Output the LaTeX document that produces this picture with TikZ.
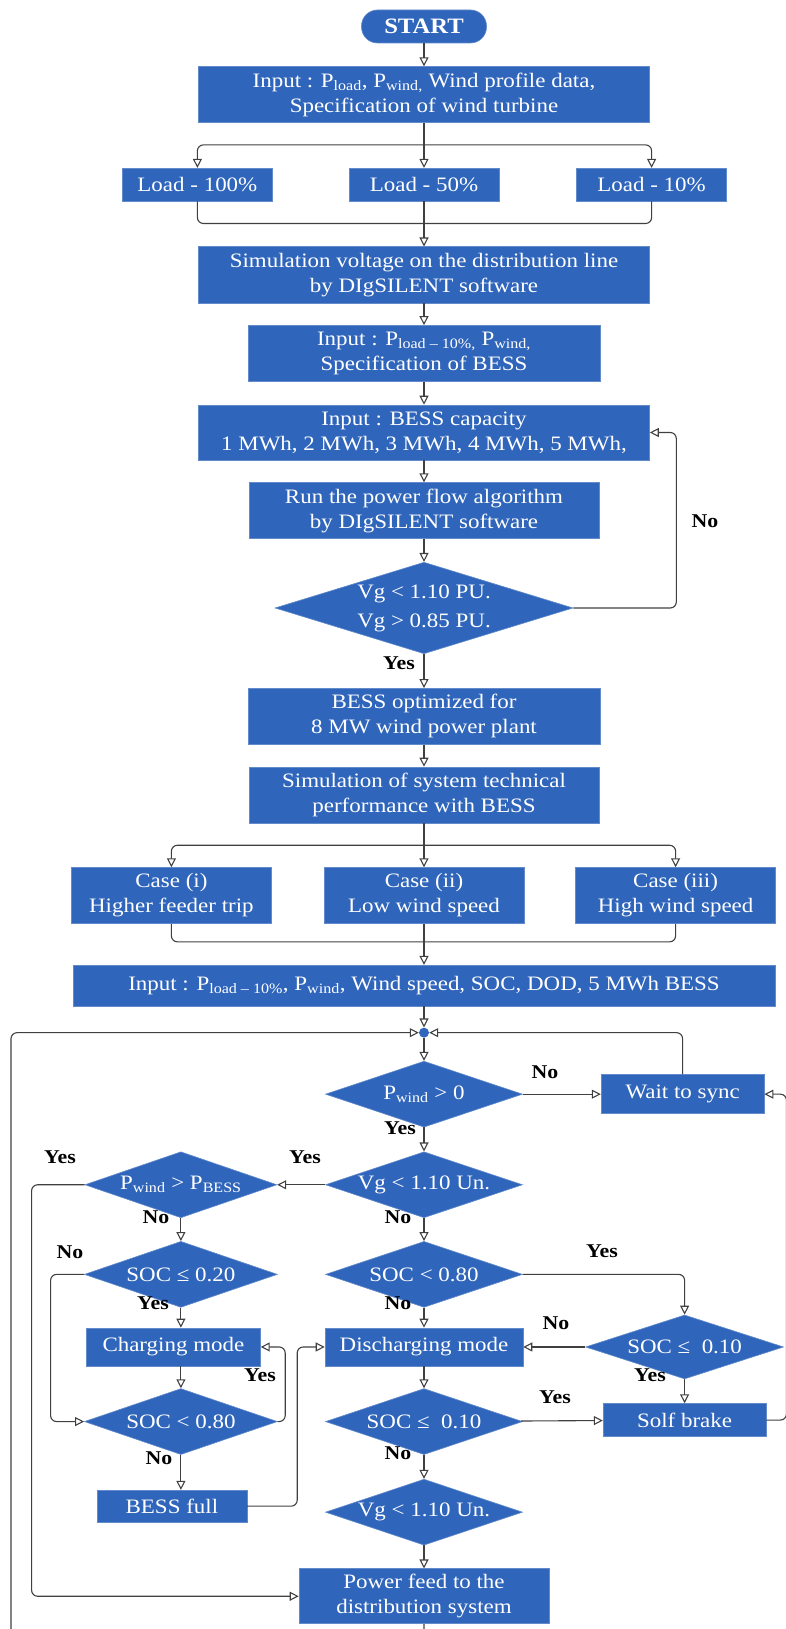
\documentclass[tikz,border=0pt]{standalone}
\usepackage{fontspec}
\setmainfont{Liberation Serif}[FakeStretch=1.12]
\usetikzlibrary{arrows.meta, positioning, shapes.geometric}

\definecolor{boxblue}{RGB}{47,101,187}
\definecolor{lineg}{RGB}{64,64,64}

\begin{document}
\begin{tikzpicture}[
    x=1pt, y=1pt,
    node distance=23pt,
    every node/.style={font=\fontsize{20.5}{25}\selectfont},
    box/.style={rectangle, fill=boxblue, draw=boxblue!75!white, line width=0.6pt, text=white, align=center, inner sep=2pt},
    test/.style={diamond, fill=boxblue, draw=boxblue!75!white, line width=0.6pt, text=white, align=center, inner sep=0pt, aspect=3, minimum width=197pt, minimum height=66pt},
    lbl/.style={font=\bfseries\fontsize{19.5}{24}\selectfont},
    arrow/.style={-{Triangle[open, length=9pt, width=9pt]}, line width=1.1pt, draw=lineg, rounded corners=6pt},
    line/.style={line width=1.1pt, draw=lineg, rounded corners=6pt}
]
\useasboundingbox (0,0) rectangle (785,-1629);

% upper part
\node[box, rounded corners=16pt, minimum width=125pt, minimum height=33pt, font=\bfseries\fontsize{22}{26}\selectfont] (start) at (424,-26.5) {START};
\node[box, below=23pt of start, minimum width=451pt, minimum height=56pt] (in1) {Input : P\textsubscript{load}, P\textsubscript{wind,} Wind profile data,\\Specification of wind turbine};
\node[box, below=45pt of in1, minimum width=150pt, minimum height=33pt] (load50) {Load - 50\%};
\node[box, left=76pt of load50, minimum width=150pt, minimum height=33pt] (load100) {Load - 100\%};
\node[box, right=77pt of load50, minimum width=150pt, minimum height=33pt] (load10) {Load - 10\%};
\node[box, below=45pt of load50, minimum width=451pt, minimum height=56pt] (sim) {Simulation voltage on the distribution line\\by DIgSILENT software};
\node[box, below=22pt of sim, minimum width=352pt, minimum height=56pt] (in2) {Input : P\textsubscript{load – 10\%,} P\textsubscript{wind,}\\Specification of BESS};
\node[box, below=23pt of in2, minimum width=451pt, minimum height=55pt] (cap) {Input : BESS capacity\\1 MWh, 2 MWh, 3 MWh, 4 MWh, 5 MWh,};
\node[box, below=22pt of cap, minimum width=350pt, minimum height=56pt] (run) {Run the power flow algorithm\\by DIgSILENT software};
\node[test, below=23pt of run, minimum width=298pt, minimum height=89pt] (vgpu) {Vg < 1.10 PU.\\[4pt]Vg > 0.85 PU.};
\node[box, below=34pt of vgpu, minimum width=352pt, minimum height=56pt] (opt) {BESS optimized for\\8 MW wind power plant};
\node[box, below=22pt of opt, minimum width=350pt, minimum height=56pt] (sys) {Simulation of system technical\\performance with BESS};
\node[box, below=44pt of sys, minimum width=200pt, minimum height=56pt] (case2) {Case (ii)\\Low wind speed};
\node[box, left=52pt of case2, minimum width=200pt, minimum height=56pt] (case1) {Case (i)\\Higher feeder trip};
\node[box, right=51pt of case2, minimum width=200pt, minimum height=56pt] (case3) {Case (iii)\\High wind speed};
\node[box, below=41pt of case2, minimum width=702pt, minimum height=41pt] (in3) {Input : P\textsubscript{load – 10\%}, P\textsubscript{wind}, Wind speed, SOC, DOD, 5 MWh BESS};
\node[circle, fill=boxblue, minimum size=10pt, inner sep=0pt, below=21pt of in3] (dot) {};

% control loop
\node[test, below=23pt of dot] (pw) {P\textsubscript{wind} > 0};
\node[box, right=78pt of pw, minimum width=163pt, minimum height=39pt] (wait) {Wait to sync};
\node[test, below=24pt of pw] (vgun) {Vg < 1.10 Un.};
\node[test, left=48pt of vgun, minimum width=192pt] (pb) {P\textsubscript{wind} > P\textsubscript{BESS}};
\node[test, below=23pt of vgun] (soc2) {SOC < 0.80};
\node[test, below=23pt of pb, minimum width=193pt] (soc1) {SOC ≤ 0.20};
\node[box, below=20pt of soc2, minimum width=198pt, minimum height=38pt] (dis) {Discharging mode};
\node[test, right=62pt of dis, minimum width=198pt, minimum height=64pt] (socr) {SOC ≤\ \ 0.10};
\node[box, left=64pt of dis, minimum width=174pt, minimum height=38pt] (chg) {Charging mode};
\node[test, below=22pt of dis] (soc4) {SOC ≤\ \ 0.10};
\node[test, minimum width=193pt] (soc3) at (soc1 |- soc4) {SOC < 0.80};
\node[box, below=24pt of socr, minimum width=163pt, minimum height=33pt] (solf) {Solf brake};
\node[box, below=35pt of soc3, xshift=-9pt, minimum width=150pt, minimum height=32pt] (full) {BESS full};
\node[test, below=24pt of soc4] (vg2) {Vg < 1.10 Un.};
\node[box, below=23pt of vg2, minimum width=250pt, minimum height=55pt] (feed) {Power feed to the\\distribution system};

% labels
\node[lbl] (nocap) at (705,-521) {No};
\node[lbl] (yesopt) at (399,-663) {Yes};
\node[lbl] (nowait) at (545,-1072) {No};
\node[lbl] (yesvg) at (400,-1128) {Yes};
\node[lbl] (yespb) at (305,-1157) {Yes};
\node[lbl] (yesfeed) at (60,-1157) {Yes};
\node[lbl] (nosoc1) at (156,-1217) {No};
\node[lbl] (nosoc2) at (398,-1217) {No};
\node[lbl] (nosoc3) at (70,-1252) {No};
\node[lbl] (yessocr) at (602,-1251) {Yes};
\node[lbl] (yeschg) at (153,-1303) {Yes};
\node[lbl] (nodis) at (398,-1303) {No};
\node[lbl] (nodisr) at (556,-1323) {No};
\node[lbl] (yesback) at (260,-1375) {Yes};
\node[lbl] (yessolf) at (650,-1375) {Yes};
\node[lbl] (yessolf2) at (555,-1397) {Yes};
\node[lbl] (nofull) at (159,-1458) {No};
\node[lbl] (novg2) at (398,-1453) {No};

% connectors
\path (in1.south) ++(0,-22) coordinate (br1);
\path (load50.south) ++(0,-22) coordinate (mg1);
\path (sys.south) ++(0,-22) coordinate (br2);
\path (case2.south) ++(0,-18) coordinate (mg2);

\draw[arrow] (start) -- (in1);
\draw[arrow] (in1.south) -- (load50.north);
\draw[arrow] (br1) -| (load100.north);
\draw[arrow] (br1) -| (load10.north);
\draw[line] (load100.south) |- (mg1) -| (load10.south);
\draw[arrow] (load50.south) -- (sim.north);
\draw[arrow] (sim) -- (in2);
\draw[arrow] (in2) -- (cap);
\draw[arrow] (cap) -- (run);
\draw[arrow] (run) -- (vgpu);
\draw[arrow] (vgpu.east) -- ++(103,0) |- (cap.east);
\draw[arrow] (vgpu) -- (opt);
\draw[arrow] (opt) -- (sys);
\draw[arrow] (sys.south) -- (case2.north);
\draw[arrow] (br2) -| (case1.north);
\draw[arrow] (br2) -| (case3.north);
\draw[line] (case1.south) |- (mg2) -| (case3.south);
\draw[arrow] (case2.south) -- (in3.north);
\draw[arrow] (in3) -- (dot);
\draw[arrow] (dot) -- (pw);
\draw[arrow] (pw) -- (wait);
\draw[arrow] (wait.north) |- (dot.east);
\draw[arrow] (pw) -- (vgun);
\draw[arrow] (vgun) -- (pb);
\draw[arrow] (pb.west) -- ++(-53,0) |- (feed.west);
\draw[arrow] (pb) -- (soc1);
\draw[arrow] (soc1.west) -- ++(-33.5,0) |- (soc3.west);
\draw[arrow] (soc1.south) -- (soc1.south |- chg.north);
\draw[arrow] (soc3.north |- chg.south) -- (soc3.north);
\draw[arrow] (soc3.east) -- ++(7.5,0) |- (chg.east);
\draw[arrow] (soc3.south) -- (soc3.south |- full.north);
\draw[arrow] (full.east) -- ++(50,0) |- (dis.west);
\draw[arrow] (vgun) -- (soc2);
\draw[arrow] (soc2.east) -| (socr.north);
\draw[arrow] (socr) -- (dis);
\draw[arrow] (soc2) -- (dis);
\draw[arrow] (dis) -- (soc4);
\draw[arrow] (soc4) -- (solf);
\draw[arrow] (socr) -- (solf);
\draw[arrow] (solf.east) -- ++(20,0) |- (wait.east);
\draw[arrow] (soc4) -- (vg2);
\draw[arrow] (vg2) -- (feed);
\draw[arrow] (feed.south) -- ++(0,-18) -- ++(-413,0) |- (dot.west);
\end{tikzpicture}
\end{document}
